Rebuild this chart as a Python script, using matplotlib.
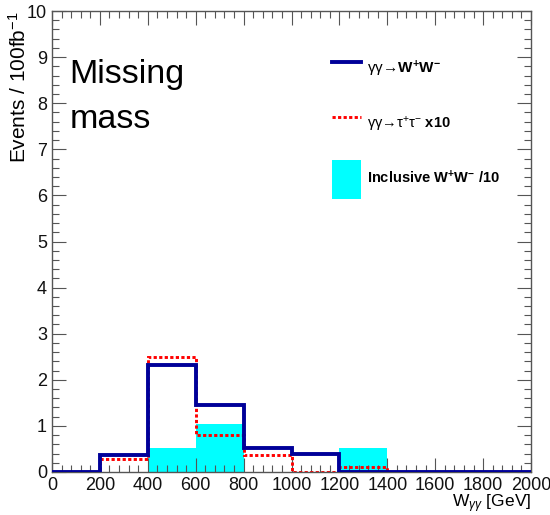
import matplotlib
matplotlib.use("Agg")
import matplotlib.pyplot as plt
from matplotlib.lines import Line2D
from matplotlib.patches import Patch
from matplotlib.ticker import MultipleLocator

plt.rcParams["font.family"] = ["Liberation Sans", "DejaVu Sans"]
plt.rcParams["mathtext.fontset"] = "custom"
plt.rcParams["mathtext.rm"] = "Liberation Sans"
plt.rcParams["mathtext.it"] = "Liberation Sans:italic"
plt.rcParams["mathtext.bf"] = "Liberation Sans:bold"

# Bin edges in W_gamma-gamma [GeV]
bin_edges = [0, 200, 400, 600, 800, 1000, 1200, 1400, 1600, 1800, 2000]
# gamma gamma -> W+W-
ww_exclusive = [0.0, 0.36, 2.32, 1.46, 0.53, 0.38, 0.0, 0.0, 0.0, 0.0]
# gamma gamma -> tau+tau- (x10)
tautau_x10 = [0.0, 0.28, 2.49, 0.81, 0.36, 0.0, 0.10, 0.0, 0.0, 0.0]
# Inclusive W+W- (/10)
ww_inclusive = [0.0, 0.0, 0.52, 1.04, 0.0, 0.0, 0.52, 0.0, 0.0, 0.0]

labels = [r"γγ→$\mathbf{W^{+}W^{-}}$",
          r"γγ→τ$^{+}$τ$^{-}$ $\mathbf{x10}$",
          r"$\mathbf{Inclusive\ W^{+}W^{-}\ /10}$"]

navy = "#000099"
red = "#ff0000"
cyan = "#00ffff"
dots = (0, (1.1, 0.8))

fig = plt.figure(figsize=(5.5, 5.15), dpi=100)
ax = fig.add_axes([0.0945, 0.0835, 0.871, 0.8951])

ax.stairs(ww_inclusive, bin_edges, fill=True, color=cyan, zorder=1)
ax.stairs(tautau_x10, bin_edges, color=red, lw=2.1, linestyle=dots, zorder=2)
ax.stairs(ww_exclusive, bin_edges, color=navy, lw=2.8, zorder=3)

ax.set_xlim(0, 2000)
ax.set_ylim(0, 10)

ax.xaxis.set_major_locator(MultipleLocator(200))
ax.xaxis.set_minor_locator(MultipleLocator(40))
ax.yaxis.set_major_locator(MultipleLocator(1))
ax.yaxis.set_minor_locator(MultipleLocator(0.2))

frame = "#555555"
for s in ax.spines.values():
    s.set_color(frame)
    s.set_linewidth(1.0)
ax.tick_params(which="both", direction="in", top=True, right=True,
               color=frame, width=0.8, labelsize=13, labelcolor="#111111")
ax.tick_params(which="major", length=10, pad=3.5)
ax.tick_params(which="minor", length=5)

ax.set_ylabel(r"Events / 100fb$^{-1}$", loc="top", fontsize=15)
ax.yaxis.set_label_coords(-0.046, 1.0)
ax.set_xlabel(r"W$_{\gamma\gamma}$ [GeV]", loc="right", fontsize=12.5)
ax.xaxis.set_label_coords(1.0, -0.045)

ax.text(0.037, 0.843, "Missing", transform=ax.transAxes, fontsize=24.5,
        va="baseline", ha="left")
ax.text(0.037, 0.746, "mass", transform=ax.transAxes, fontsize=24.5,
        va="baseline", ha="left")

handles = [Line2D([], [], color=navy, lw=2.8),
           Line2D([], [], color=red, lw=2.1, linestyle=dots),
           Patch(facecolor=cyan, edgecolor="none")]
leg = ax.legend(handles, labels, loc="upper left",
                bbox_to_anchor=(0.5846, 0.915), frameon=False,
                fontsize=10.5, borderpad=0, borderaxespad=0,
                handlelength=1.96, handleheight=3.74, handletextpad=0.45,
                labelspacing=1.08)
leg.get_texts()[0].set_fontsize(11)

fig.savefig("out.png", dpi=100)
